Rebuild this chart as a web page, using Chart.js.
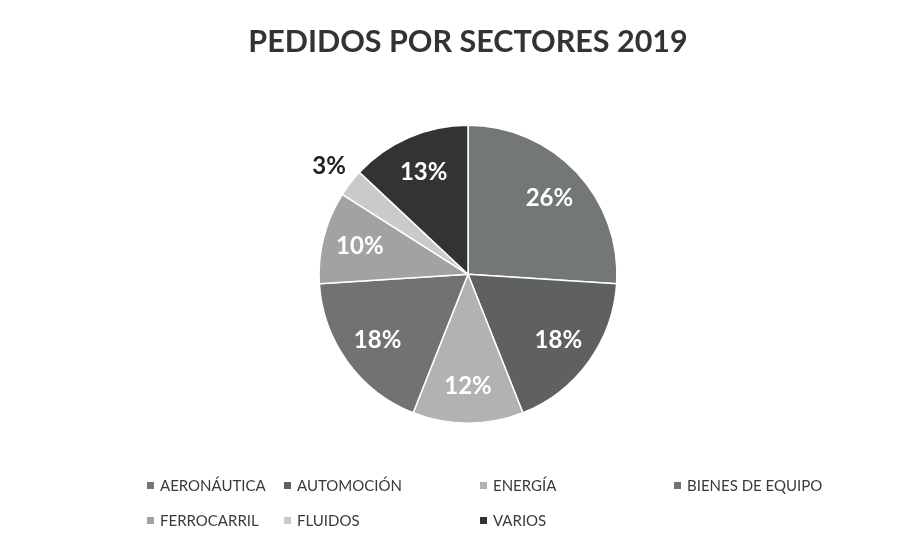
<!DOCTYPE html>
<html>
<head>
<meta charset="utf-8">
<script src="https://cdn.jsdelivr.net/npm/chart.js@4"></script>
<style>
  html, body { margin: 0; padding: 0; background: #ffffff; }
  #wrap { position: relative; width: 916px; height: 556px; }
  #c { position: absolute; left: 0; top: 0; }
  .leg { position: absolute; font-family: Lato, "Open Sans", sans-serif; font-size: 15px; color: #3a3a3a; white-space: nowrap; line-height: 20px; }
  .leg i { display: inline-block; width: 7px; height: 7px; margin-right: 6px; vertical-align: 2px; }
</style>
</head>
<body>
<div id="wrap">
  <canvas id="c" width="916" height="556"></canvas>
</div>
<script>
const chartTitle = 'PEDIDOS POR SECTORES 2019';
const categories = ['AERONÁUTICA', 'AUTOMOCIÓN', 'ENERGÍA', 'BIENES DE EQUIPO', 'FERROCARRIL', 'FLUIDOS', 'VARIOS'];
const percentages = [26, 18, 12, 18, 10, 3, 13];
const sliceColors = ['#737776', '#5e6160', '#b2b2b2', '#727272', '#a2a2a2', '#cacaca', '#333333'];

// legend grid layout (positions only)
const legendCols = [147, 284, 480, 674];
const legendRows = [475, 510];

const labelPlugin = {
  id: 'sliceLabels',
  afterDatasetsDraw(chart) {
    const ctx = chart.ctx;
    const meta = chart.getDatasetMeta(0);
    ctx.save();
    ctx.textAlign = 'center';
    ctx.textBaseline = 'middle';
    ctx.font = 'bold 24px Lato, "Open Sans", sans-serif';
    meta.data.forEach((arc, i) => {
      const p = arc.getProps(['x', 'y', 'startAngle', 'endAngle', 'outerRadius'], true);
      const mid = (p.startAngle + p.endAngle) / 2;
      const v = chart.data.datasets[0].data[i];
      const outside = v < 5;
      const r = p.outerRadius * (outside ? 1.18 : 0.75);
      const x = p.x + Math.cos(mid) * r;
      const y = p.y + Math.sin(mid) * r;
      ctx.fillStyle = outside ? '#222222' : '#ffffff';
      ctx.fillText(v + '%', x, y);
    });
    ctx.restore();
  }
};

new Chart(document.getElementById('c'), {
  type: 'pie',
  data: {
    labels: categories,
    datasets: [{
      data: percentages,
      backgroundColor: sliceColors,
      borderColor: '#ffffff',
      borderWidth: 1.5
    }]
  },
  options: {
    responsive: false,
    animation: false,
    layout: { padding: { left: 20, right: 0, top: 0, bottom: 132 } },
    plugins: {
      legend: { display: false },
      tooltip: { enabled: false },
      title: {
        display: true,
        text: chartTitle,
        color: '#333333',
        font: { family: 'Lato, "Open Sans", sans-serif', size: 30.5, weight: 'bold', lineHeight: 1.2 },
        padding: { top: 24, bottom: 64 }
      }
    }
  },
  plugins: [labelPlugin]
});

// HTML legend built from the data arrays
const wrap = document.getElementById('wrap');
categories.forEach((name, i) => {
  const d = document.createElement('div');
  d.className = 'leg';
  d.style.left = legendCols[i % 4] + 'px';
  d.style.top = legendRows[Math.floor(i / 4)] + 'px';
  const m = document.createElement('i');
  m.style.background = sliceColors[i];
  d.appendChild(m);
  d.appendChild(document.createTextNode(name));
  wrap.appendChild(d);
});
</script>
</body>
</html>
